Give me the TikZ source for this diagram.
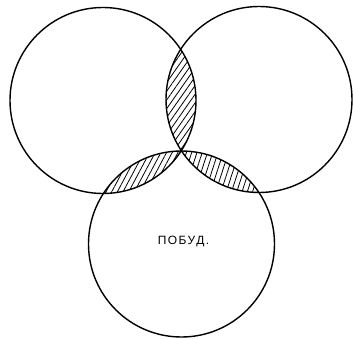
\documentclass[tikz,border=0pt]{standalone}
\usepackage{fontspec}
\setmainfont{Liberation Sans}
\usetikzlibrary{patterns.meta}

\begin{document}
\begin{tikzpicture}[
    x=1pt, y=1pt,
    every node/.style={font=\fontsize{12}{14}\selectfont},
    ring/.style={draw=black, line width=1.4pt},
    hatch/.style={pattern={Lines[angle=#1, distance=5pt, line width=0.8pt]}},
    label/.style={inner sep=0pt}
]
\useasboundingbox (0,0) rectangle (353,338);
% --- circle centres ---
\coordinate (cL) at (103,237.5);
\coordinate (cR) at (259,238.5);
\coordinate (cB) at (181.5,94);
\def\rad{93}

% --- hatched overlaps ---
\begin{scope}
  \clip (cL) circle (\rad);
  \fill[hatch=55] (cR) circle (\rad);
\end{scope}
\begin{scope}
  \clip (cL) circle (\rad);
  \fill[hatch=62] (cB) circle (\rad);
\end{scope}
\begin{scope}
  \clip (cR) circle (\rad);
  \fill[hatch=72] (cB) circle (\rad);
\end{scope}

% --- circles ---
\draw[ring] (cL) circle (\rad);
\draw[ring] (cR) circle (\rad);
\draw[ring] (cB) circle (\rad);

\node[label] (pob) at (183.5,96.5) {\addfontfeature{LetterSpace=12}ПОБУД.};
\end{tikzpicture}
\end{document}
